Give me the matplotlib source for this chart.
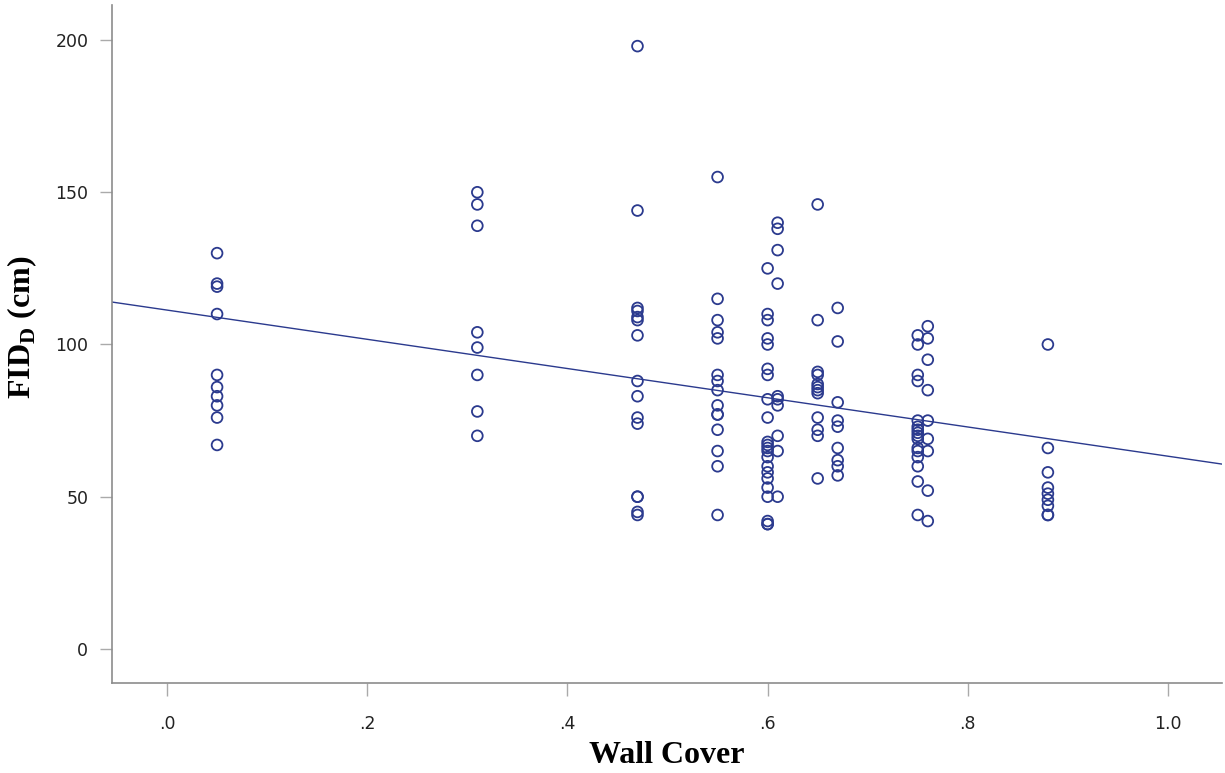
import numpy as np
import matplotlib
matplotlib.use("Agg")
import matplotlib.pyplot as plt

# wall cover levels (x) and the FID_D values recorded at each level
coverLevels = [0.05, 0.31, 0.47, 0.55, 0.60, 0.61, 0.65, 0.67, 0.75, 0.76, 0.88]
fidGroups = [
    [130, 120, 119, 110, 90, 86, 83, 80, 76, 67],
    [150, 146, 139, 104, 99, 90, 78, 70],
    [198, 144, 112, 111, 109, 108, 103, 88, 83, 76, 74, 50, 50, 45, 44],
    [155, 115, 108, 104, 102, 90, 88, 85, 80, 77, 77, 72, 65, 60, 44],
    [125, 110, 108, 102, 100, 92, 90, 82, 76, 68, 67, 66, 65, 63, 60, 58, 56, 53, 50, 42, 41, 41],
    [140, 138, 131, 120, 83, 82, 80, 70, 65, 50],
    [146, 108, 91, 90, 87, 86, 85, 84, 76, 72, 70, 56],
    [112, 101, 81, 75, 73, 66, 62, 60, 57],
    [103, 100, 90, 88, 75, 73, 72, 71, 70, 69, 66, 65, 63, 60, 55, 44],
    [106, 102, 95, 85, 75, 69, 65, 52, 42],
    [100, 66, 58, 53, 51, 49, 47, 44, 44],
]
# fit line
fitIntercept = 111.3
fitSlope = -48.0

xTicks = [0.0, 0.2, 0.4, 0.6, 0.8, 1.0]
xTickLabels = [".0", ".2", ".4", ".6", ".8", "1.0"]
yTicks = [0, 50, 100, 150, 200]

navy = "#2B3A8E"
spineGray = "#8C8C8C"

x = np.concatenate([[c] * len(g) for c, g in zip(coverLevels, fidGroups)])
y = np.concatenate(fidGroups)

plt.rcParams["mathtext.fontset"] = "custom"
plt.rcParams["mathtext.rm"] = "Liberation Serif:bold"

fig = plt.figure(figsize=(12.25, 7.73), dpi=100)
ax = fig.add_axes([0.0914, 0.1164, 0.9062, 0.8771])

ax.scatter(x, y, s=60, facecolors="none", edgecolors=navy, linewidths=1.3, zorder=3)
ax.axline((0, fitIntercept), slope=fitSlope, color=navy, linewidth=1.0, zorder=2)

ax.set_xlim(-0.055, 1.054)
ax.set_ylim(-11.2, 211.5)
ax.set_xticks(xTicks)
ax.set_xticklabels(xTickLabels)
ax.set_yticks(yTicks)

for side in ["top", "right"]:
    ax.spines[side].set_visible(False)
for side in ["left", "bottom"]:
    ax.spines[side].set_color(spineGray)
    ax.spines[side].set_linewidth(1.2)

ax.tick_params(axis="both", direction="out", length=9, width=1.0, color="#AAAAAA",
               labelsize=12.5, labelcolor="#222222", pad=8)
ax.tick_params(axis="x", pad=14)

ax.set_xlabel("Wall Cover", fontfamily="Liberation Serif", fontweight="bold",
              fontsize=23, labelpad=6)
ax.set_ylabel(r"FID$_\mathregular{D}$ (cm)", fontfamily="Liberation Serif",
              fontweight="bold", fontsize=23)
ax.yaxis.set_label_coords(-0.066, 0.524)

fig.savefig("out.png", dpi=100)
